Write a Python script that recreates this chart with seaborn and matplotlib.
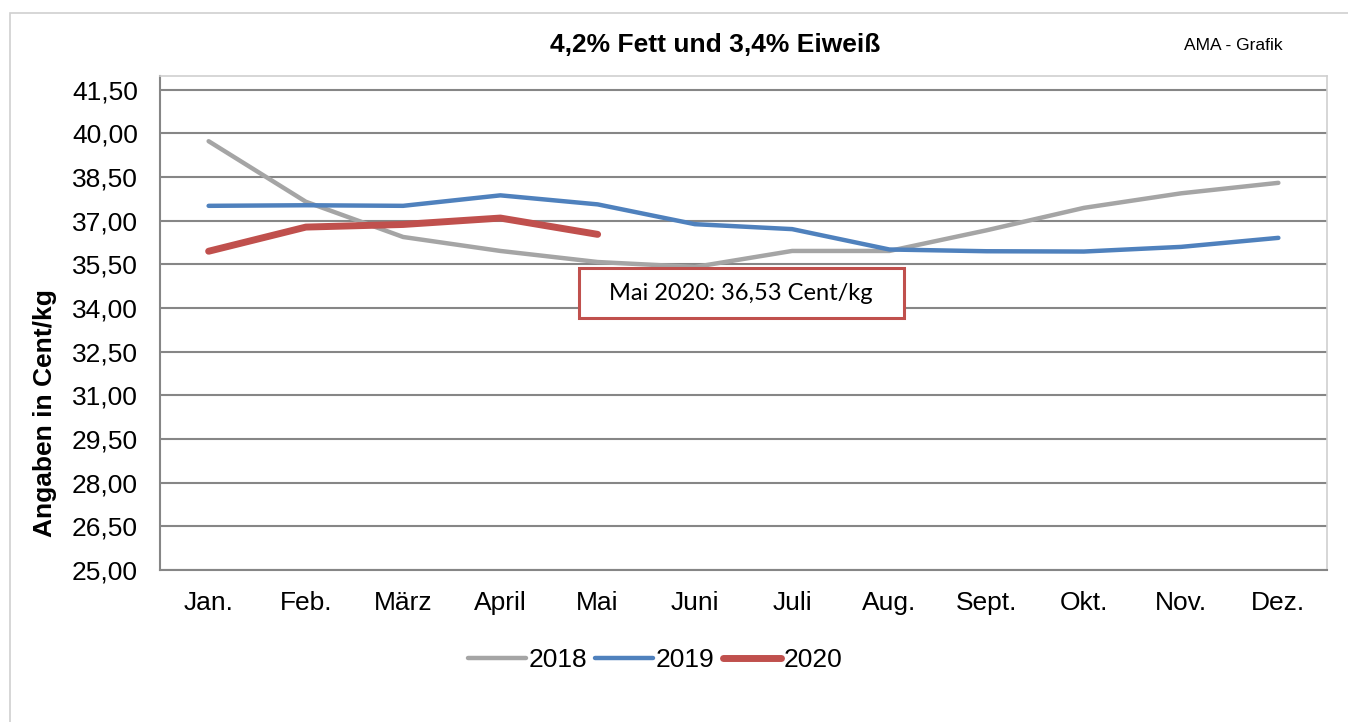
import numpy as np
import pandas as pd
import matplotlib
matplotlib.use("Agg")
import matplotlib.pyplot as plt
import seaborn as sns
from matplotlib.patches import Rectangle
from matplotlib.ticker import FuncFormatter, FixedLocator

months = ["Jan.", "Feb.", "März", "April", "Mai", "Juni", "Juli", "Aug.",
          "Sept.", "Okt.", "Nov.", "Dez."]
p2018 = [39.73, 37.65, 36.44, 35.96, 35.58, 35.41, 35.96, 35.96, 36.67, 37.44, 37.94, 38.30]
p2019 = [37.51, 37.53, 37.51, 37.87, 37.56, 36.88, 36.71, 36.01, 35.95, 35.94, 36.10, 36.41]
p2020 = [35.95, 36.78, 36.87, 37.09, 36.53]
years = ["2018", "2019", "2020"]
colours = ["#A5A5A5", "#4F81BD", "#C0504D"]
widths = [3.2, 3.2, 5.0]
yticks = np.arange(25.0, 41.51, 1.5)

sns.set_style("white")
plt.rcParams['font.family'] = ['Liberation Sans', 'DejaVu Sans']
plt.rcParams['text.color'] = 'black'
plt.rcParams['xtick.labelcolor'] = 'black'
plt.rcParams['ytick.labelcolor'] = 'black'

fig = plt.figure(figsize=(13.48, 7.22), dpi=100)
ax = fig.add_axes([160/1348, 1-570/722, 1167/1348, 494/722])

# outer chart frame
fig.patches.append(Rectangle((10/1348, -0.05), 1.2, 1.05-13/722, transform=fig.transFigure,
                             fill=False, edgecolor="#D0D0D0", linewidth=1.2))

for yr, vals, c, lw in zip(years, [p2018, p2019, p2020], colours, widths):
    sns.lineplot(x=np.arange(len(vals)), y=vals, color=c, linewidth=lw, label=yr,
                 ax=ax, solid_capstyle="round")

ax.set_xlim(-0.5, 11.5)
ax.set_ylim(25, 41.97)
ax.yaxis.set_major_locator(FixedLocator(yticks))
ax.yaxis.set_major_formatter(FuncFormatter(lambda v, p: f"{v:.2f}".replace(".", ",")))
ax.set_xticks(np.arange(12))
ax.set_xticklabels(months)
ax.set_xticks(np.arange(-0.5, 12, 1), minor=True)
ax.tick_params(axis="x", which="major", length=0, pad=15, labelsize=19)
ax.tick_params(axis="x", which="minor", length=7, width=1.5, color="#868686", direction="out")
ax.tick_params(axis="y", length=7, width=1.5, color="#868686", direction="out", pad=9, labelsize=19)
ax.grid(axis="y", color="#868686", linewidth=1.5)
ax.set_axisbelow(True)
for s in ["left", "bottom"]:
    ax.spines[s].set_color("#868686")
    ax.spines[s].set_linewidth(1.5)
for s in ["top", "right"]:
    ax.spines[s].set_color("#D0D0D0")
    ax.spines[s].set_linewidth(1.2)

ax.set_ylabel("")
ax.set_xlabel("")
fig.text(45/1348, 1-413/722, "Angaben in Cent/kg", rotation=90, ha="center", va="center",
         fontsize=19, fontweight="bold")

fig.text(715/1348, 1-45/722, "4,2% Fett und 3,4% Eiweiß", ha="center", va="center",
         fontsize=19, fontweight="bold")
fig.text(1233/1348, 1-45/722, "AMA - Grafik", ha="center", va="center", fontsize=12.5)

# annotation box
ax.add_patch(Rectangle(((579-160)/1167, (570-318)/494), 325/1167, 50/494,
                       transform=ax.transAxes, fill=True, facecolor="white",
                       edgecolor="#C0504D", linewidth=2.2, zorder=5))
ax.text((741-160)/1167, (570-293)/494, "Mai 2020: 36,53 Cent/kg", transform=ax.transAxes,
        ha="center", va="center", fontsize=17, family=["Lato", "DejaVu Sans"], zorder=6)

ax.legend_.remove()
handles, labels = ax.get_legend_handles_labels()
fig.legend(handles, labels, loc="center", bbox_to_anchor=(655/1348, 1-660/722), ncol=3,
           frameon=False, fontsize=19, handlelength=2.2, handletextpad=0.1,
           columnspacing=0.3)

fig.savefig("out.png", dpi=100)
